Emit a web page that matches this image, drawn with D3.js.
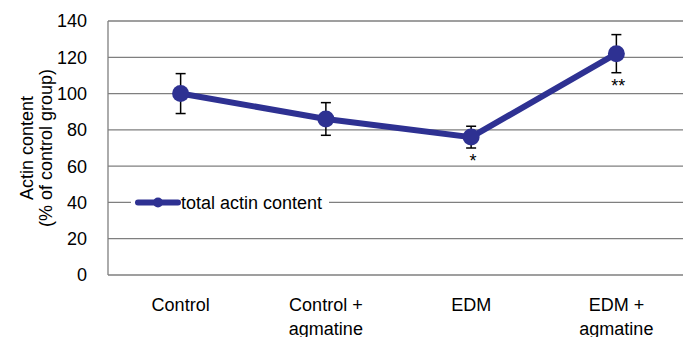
<!DOCTYPE html>
<html>
<head>
<meta charset="utf-8">
<script src="https://cdn.jsdelivr.net/npm/d3@7"></script>
<style>
  body { margin: 0; background: #fff; }
  text { font-family: "Liberation Sans", Arial, sans-serif; }
</style>
</head>
<body>
<div id="chart"></div>
<script>
const width = 683,
    height = 337,
    margin = ({ top: 21, right: -6, bottom: 62, left: 108 });

// data
const categories = [["Control"], ["Control +", "agmatine"], ["EDM"], ["EDM +", "agmatine"]];
const values = [100, 86, 76, 122];
const errors = [11, 9, 6, 10.5];
const marks = ["", "", "*", "**"];
const yTicks = [0, 20, 40, 60, 80, 100, 120, 140];
const seriesName = "total actin content";

const blue = "#2e3192";

const svg = d3.select("#chart")
    .append("svg")
    .attr("width", width)
    .attr("height", height);

let x = d3.scaleBand()
    .domain(d3.range(categories.length))
    .range([margin.left, width - margin.right]);

let y = d3.scaleLinear()
    .domain([0, 140])
    .range([height - margin.bottom, margin.top]);

// grid lines
svg.append("g")
  .selectAll("line")
  .data(yTicks)
  .join("line")
    .attr("x1", margin.left)
    .attr("x2", width)
    .attr("y1", d => y(d))
    .attr("y2", d => y(d))
    .attr("stroke", "#7f7f7f")
    .attr("stroke-width", 1.3);

// left axis
svg.append("line")
    .attr("x1", margin.left).attr("x2", margin.left)
    .attr("y1", y(140)).attr("y2", y(0))
    .attr("stroke", "#7f7f7f")
    .attr("stroke-width", 1.3);

svg.append("g")
  .selectAll("text")
  .data(yTicks)
  .join("text")
    .attr("x", 87)
    .attr("y", d => y(d))
    .attr("dy", "0.36em")
    .attr("text-anchor", "end")
    .attr("font-size", 18)
    .text(d => d);

// y title
const yt = svg.append("text")
    .attr("transform", `translate(33,${(y(0) + y(140)) / 2}) rotate(-90)`)
    .attr("text-anchor", "middle")
    .attr("font-size", 18);
yt.append("tspan").attr("x", 0).attr("dy", 0).text("Actin content");
yt.append("tspan").attr("x", 0).attr("dy", 19).text("(% of control group)");

// x labels
svg.append("g")
  .selectAll("text")
  .data(categories)
  .join("text")
    .attr("text-anchor", "middle")
    .attr("font-size", 18)
    .attr("transform", (d, i) => `translate(${x(i) + x.bandwidth() / 2},311)`)
    .selectAll("tspan")
    .data(d => d)
    .join("tspan")
      .attr("x", 0)
      .attr("dy", (d, j) => j === 0 ? 0 : 24)
      .text(d => d);

// legend box (covers the 40 grid line)
svg.append("rect")
    .attr("x", 131).attr("y", y(40) - 9)
    .attr("width", 198).attr("height", 18)
    .attr("fill", "#fff");
svg.append("line")
    .attr("x1", 138).attr("x2", 178)
    .attr("y1", y(40)).attr("y2", y(40))
    .attr("stroke", blue)
    .attr("stroke-width", 6)
    .attr("stroke-linecap", "round");
svg.append("circle")
    .attr("cx", 158).attr("cy", y(40)).attr("r", 5)
    .attr("fill", blue);
svg.append("text")
    .attr("x", 181).attr("y", y(40))
    .attr("dy", "0.36em")
    .attr("font-size", 18)
    .text(seriesName);

const cx = i => x(i) + x.bandwidth() / 2;

// line
let line = d3.line()
    .x((d, i) => cx(i))
    .y(d => y(d));

svg.append("path")
    .datum(values)
    .attr("d", line)
    .attr("fill", "none")
    .attr("stroke", blue)
    .attr("stroke-width", 6);

// error bars
const eb = svg.append("g")
    .attr("stroke", "#000")
    .attr("stroke-width", 1.5);
values.forEach((v, i) => {
  eb.append("line")
    .attr("x1", cx(i)).attr("x2", cx(i))
    .attr("y1", y(v + errors[i])).attr("y2", y(v - errors[i]));
  [v + errors[i], v - errors[i]].forEach(e => {
    eb.append("line")
      .attr("x1", cx(i) - 5).attr("x2", cx(i) + 5)
      .attr("y1", y(e)).attr("y2", y(e));
  });
});

// markers
svg.append("g")
  .selectAll("circle")
  .data(values)
  .join("circle")
    .attr("cx", (d, i) => cx(i))
    .attr("cy", d => y(d))
    .attr("r", 8.5)
    .attr("fill", blue);

// significance marks
svg.append("g")
  .selectAll("text")
  .data(marks)
  .join("text")
    .attr("x", (d, i) => cx(i) + 2)
    .attr("y", (d, i) => y(values[i] - errors[i]) + 19)
    .attr("text-anchor", "middle")
    .attr("font-size", 18)
    .text(d => d);
</script>
</body>
</html>
